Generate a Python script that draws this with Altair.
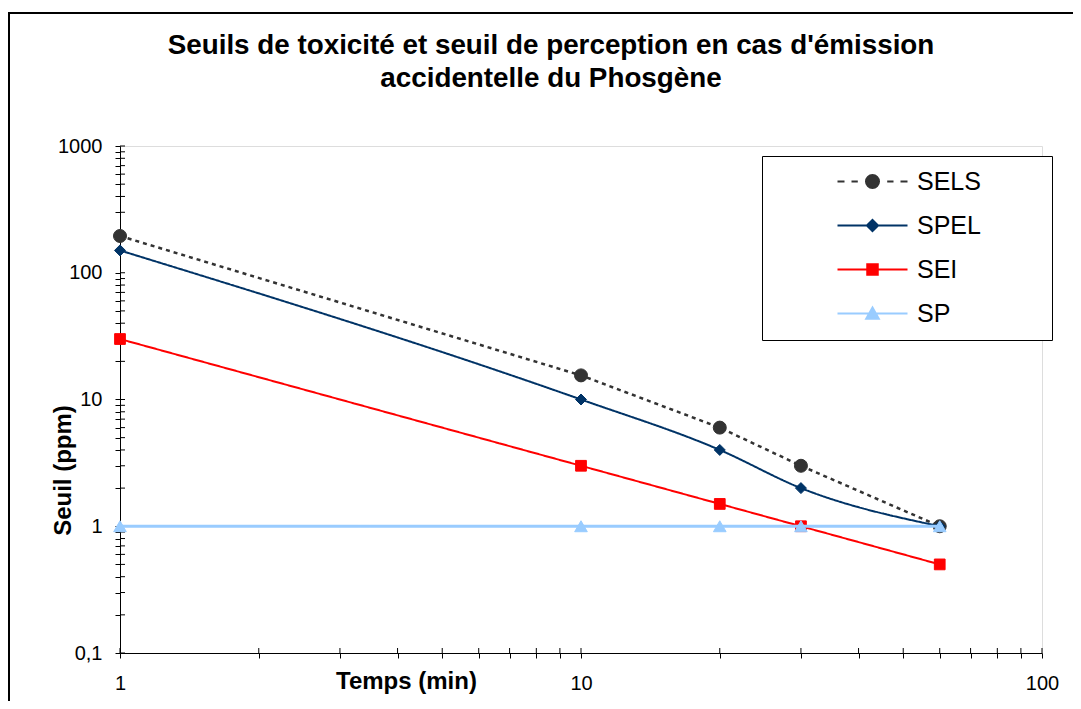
import altair as alt
import pandas as pd

FONT = "Liberation Sans"

# ---- data ----
temps = [1, 10, 20, 30, 60]
sels = [195, 15.5, 6, 3, 1]
spel = [150, 10, 4, 2, 1]
sei = [30, 3, 1.5, 1, 0.5]
sp = [1, 1, 1, 1, 1]

series_names = ["SELS", "SPEL", "SEI", "SP"]
series_values = [sels, spel, sei, sp]
series_colors = ["#333333", "#003366", "#FF0000", "#99CCFF"]
series_shapes = ["circle", "diamond", "square", "triangle-up"]
series_sizes = [169, 121, 115, 160]
series_widths = [2.5, 2, 2, 3]
series_dash = [[4, 4], [1, 0], [1, 0], [1, 0]]
series_interp = ["linear", "monotone", "linear", "linear"]

# legend glyphs: line segment + marker (unit coords, scaled by sqrt(size)/2)
legend_paths = [
    "M-5,0L-4,0M-3,0L-2.1,0M2.1,0L3,0M4,0L5,0M-0.93,0A0.93,0.93,0,1,1,0.93,0A0.93,0.93,0,1,1,-0.93,0Z",
    "M-5,0L5,0M0,-0.8L0.8,0L0,0.8L-0.8,0Z",
    "M-5,0L5,0M-0.75,-0.75L0.75,-0.75L0.75,0.75L-0.75,0.75Z",
    "M-5,0L5,0M0,-0.85L0.9,0.75L-0.9,0.75Z",
]

x_ticks = [1, 2, 3, 4, 5, 6, 7, 8, 9, 10, 20, 30, 40, 50, 60, 70, 80, 90, 100]
y_ticks = [0.1, 0.2, 0.3, 0.4, 0.5, 0.6, 0.7, 0.8, 0.9,
           1, 2, 3, 4, 5, 6, 7, 8, 9,
           10, 20, 30, 40, 50, 60, 70, 80, 90,
           100, 200, 300, 400, 500, 600, 700, 800, 900, 1000]

W, H = 922, 507

rows = []
for name, vals in zip(series_names, series_values):
    for t, v in zip(temps, vals):
        rows.append({"serie": name, "temps": t, "seuil": v})
df = pd.DataFrame(rows)

label_expr = ("abs(log(datum.value)/LN10 - round(log(datum.value)/LN10)) < 0.001 ? "
              "replace(toString(datum.value), '.', ',') : ''")

x_axis = alt.Axis(
    values=x_ticks, labelExpr=label_expr, grid=False, title="Temps (min)",
    domainColor="black", domainWidth=1, tickColor="black", tickWidth=1, tickSize=5,
    labelFont=FONT, labelFontSize=20, labelColor="black", labelPadding=15,
    labelFlush=False, labelOverlap=False,
    titleFont=FONT, titleFontSize=24, titleFontWeight="bold", titleColor="black",
    titleX=286, titleY=28, titleBaseline="middle", titleAnchor="middle",
)
y_axis = alt.Axis(
    values=y_ticks, labelExpr=label_expr, grid=False, title="Seuil (ppm)",
    domainColor="black", domainWidth=1, tickColor="black", tickWidth=1, tickSize=5,
    labelFont=FONT, labelFontSize=20, labelColor="black", labelPadding=13,
    labelOverlap=False,
    titleFont=FONT, titleFontSize=24, titleFontWeight="bold", titleColor="black",
    titleX=-57, titleY=324, titleBaseline="middle", titleAnchor="middle", titleAngle=-90,
)
x_scale = alt.Scale(type="log", domain=[1, 100], nice=False)
y_scale = alt.Scale(type="log", domain=[0.1, 1000], nice=False)


def X(field):
    return alt.X(f"{field}:Q", scale=x_scale, axis=x_axis)


def Y(field):
    return alt.Y(f"{field}:Q", scale=y_scale, axis=y_axis)


layers = []

# frame of the chart area (decoration)
frame = alt.Chart(pd.DataFrame({"a": [0]})).mark_rect(
    fill="transparent", stroke="black", strokeWidth=2
).encode(x=alt.value(-111), x2=alt.value(1100), y=alt.value(-133), y2=alt.value(800))
layers.append(frame)

# inner halves of the cross ticks
ytick_df = pd.DataFrame({"v": y_ticks})
xtick_df = pd.DataFrame({"t": x_ticks})
layers.append(alt.Chart(ytick_df).mark_rule(color="black", strokeWidth=1).encode(
    y=Y("v"), x=alt.value(0), x2=alt.value(5)))
layers.append(alt.Chart(xtick_df).mark_rule(color="black", strokeWidth=1).encode(
    x=X("t"), y=alt.value(H - 5), y2=alt.value(H)))

for name, col, shp, sz, sw, dash, interp in zip(series_names, series_colors, series_shapes,
                                                series_sizes, series_widths, series_dash,
                                                series_interp):
    base = alt.Chart(df).transform_filter(alt.datum.serie == name)
    layers.append(base.mark_line(color=col, strokeWidth=sw, strokeDash=dash,
                                 interpolate=interp).encode(x=X("temps"), y=Y("seuil")))
    layers.append(base.mark_point(filled=True, fill=col, stroke=col, strokeWidth=1,
                                  opacity=1, shape=shp, size=sz).encode(
        x=X("temps"), y=Y("seuil")))

# the legend box in the reference has wide side margins: a transparent
# title placed on the right gives the box its width
legend_def = alt.Legend(
    title="SEL", titleOrient="right", titleColor="transparent", titleFont=FONT,
    titleFontSize=25, titleFontWeight="normal", titlePadding=10,
    orient="none", legendX=642, legendY=10, padding=13,
    strokeColor="black", fillColor="white",
    symbolSize=196, symbolStrokeWidth=2, symbolOffset=85, symbolOpacity=1,
    labelOffset=32, labelFont=FONT, labelFontSize=25, labelColor="black",
    labelLimit=400, rowPadding=18,
)
legend_layer = alt.Chart(df).transform_filter("false").mark_point(
    filled=True, opacity=1, strokeWidth=2
).encode(
    fill=alt.Fill("serie:N", scale=alt.Scale(domain=series_names, range=series_colors),
                  legend=legend_def),
    stroke=alt.Stroke("serie:N", scale=alt.Scale(domain=series_names, range=series_colors),
                      legend=legend_def),
    shape=alt.Shape("serie:N", scale=alt.Scale(domain=series_names, range=legend_paths),
                    legend=legend_def),
)
layers.append(legend_layer)

chart = alt.layer(*layers).properties(
    width=W, height=H,
    autosize=alt.AutoSizeParams(type="none"),
    padding={"left": 112, "top": 138, "right": 31, "bottom": 48},
    title=alt.TitleParams(
        text=["Seuils de toxicité et seuil de perception en cas d'émission",
              "accidentelle du Phosgène"],
        font=FONT, fontSize=27.8, fontWeight="bold", color="black",
        anchor="middle", frame="group", dx=-30, dy=81, lineHeight=33, offset=0,
    ),
).configure_view(stroke=None).configure(background="white")

chart.save("out.html", embed_options={"renderer": "svg", "actions": False})
